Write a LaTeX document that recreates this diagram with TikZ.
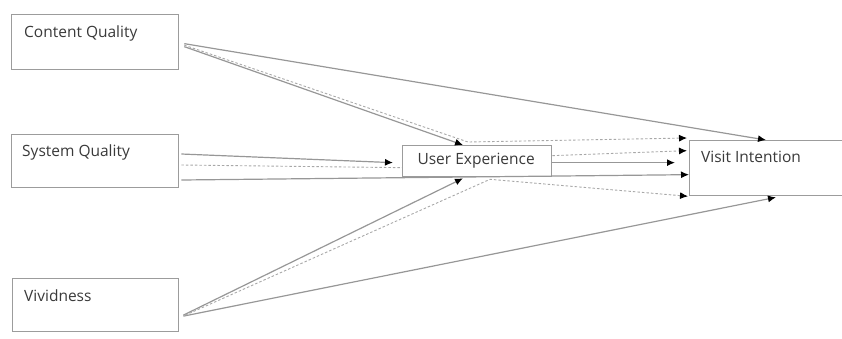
\documentclass[tikz,border=0pt]{standalone}
\usepackage{fontspec}
\setmainfont{Open Sans}
\usetikzlibrary{arrows.meta,calc}
\definecolor{boxline}{HTML}{9C9C9C}
\definecolor{pathline}{HTML}{979797}
\definecolor{dashline}{HTML}{A8A8A8}
\definecolor{labeltext}{HTML}{3A3A3A}
\tikzset{
  box/.style={draw=boxline, line width=1.3pt, fill=white, rectangle, inner sep=0pt, anchor=north west},
  boxfont/.style={font=\fontsize{15.5}{18}\selectfont, text=labeltext},
  boxtext/.style={boxfont, inner sep=0pt, anchor=north west},
  tip/.style={-{Latex[length=8pt,width=7pt,color=black]}},
  direct/.style={draw=pathline, line width=1.2pt},
  indirect/.style={draw=dashline, line width=0.9pt, dash pattern=on 2.5pt off 2pt},
}
\begin{document}
\begin{tikzpicture}[x=1pt,y=-1pt]
\useasboundingbox (0,0) rectangle (842,338);
\clip (0,0) rectangle (842,338);

% construct boxes
\node[box, minimum width=167pt, minimum height=55pt,
      label={[boxtext, xshift=13pt, yshift=-12pt]north west:Content Quality}] (cq) at (11,14) {};
\node[box, minimum width=167pt, minimum height=53pt,
      label={[boxtext, xshift=11pt, yshift=-11pt]north west:System Quality}] (sq) at (11,134) {};
\node[box, minimum width=166pt, minimum height=53pt,
      label={[boxtext, xshift=12pt, yshift=-12pt]north west:Vividness}] (viv) at (12,278) {};
\node[box, minimum width=200pt, minimum height=55pt,
      label={[boxtext, xshift=12pt, yshift=-11pt]north west:Visit Intention}] (vi) at (689,140) {};

% attachment points
\coordinate (cq-o1) at ($(cq.east)+(5,1.5)$);
\coordinate (cq-o2) at ($(cq.east)+(5,3)$);
\coordinate (cq-o3) at ($(cq.east)+(5,4.5)$);
\coordinate (sq-o1) at ($(sq.north east)+(2,20)$);
\coordinate (sq-o2) at ($(sq.north east)+(2,31)$);
\coordinate (sq-o3) at ($(sq.north east)+(2,46)$);
\coordinate (viv-o1) at ($(viv.east)+(4,10)$);
\coordinate (viv-o2) at ($(viv.east)+(6,10)$);
\coordinate (viv-o3) at ($(viv.east)+(4,11)$);

% mediator box
\node[box, minimum width=149pt, minimum height=31pt, anchor=north west] (ue) at (402,145) {};
\node[boxfont, inner sep=0pt] (uetext) at ($(ue.center)+(-1,0)$) {User Experience};

\coordinate (ue-top) at ($(ue.north west)+(61,0)$);
\coordinate (ue-topd) at ($(ue.north west)+(66,-3)$);
\coordinate (ue-bot) at ($(ue.south west)+(61,1)$);
\coordinate (ue-botd) at ($(ue.south west)+(88,2)$);
\coordinate (ue-in) at ($(ue.west)+(-9,1.5)$);
\coordinate (ue-ind) at ($(ue.west)+(0,6.5)$);
\coordinate (ue-o1) at ($(ue.east)+(0,-5.5)$);
\coordinate (ue-o2) at ($(ue.east)+(0,1.5)$);

\coordinate (vi-t1) at ($(vi.north west)+(77,0)$);
\coordinate (vi-t2) at ($(vi.north west)+(-2,-2)$);
\coordinate (vi-t3) at ($(vi.west)+(-2,-17.5)$);
\coordinate (vi-t4) at ($(vi.west)+(-14,-5.5)$);
\coordinate (vi-t5) at ($(vi.west)+(0,6.5)$);
\coordinate (vi-t6) at ($(vi.south west)+(-1,0)$);
\coordinate (vi-t7) at ($(vi.south west)+(87,1)$);

% direct paths
\draw[direct, tip] (cq-o1) -- (vi-t1);
\draw[direct, tip] (cq-o3) -- (ue-top);
\draw[direct, tip] (sq-o1) -- (ue-in);
\draw[direct, tip] (sq-o3) -- (vi-t5);
\draw[direct, tip] (ue-o2) -- (vi-t4);
\draw[direct, tip] (viv-o1) -- (ue-bot);
\draw[direct, tip] (viv-o3) -- (vi-t7);

% indirect paths
\draw[indirect, tip] (cq-o2) -- (ue-topd) -- (vi-t2);
\draw[indirect] (sq-o2) -- (ue-ind);
\draw[indirect, tip] (ue-o1) -- (vi-t3);
\draw[indirect, tip] (viv-o2) -- (ue-botd) -- (vi-t6);
\end{tikzpicture}
\end{document}
